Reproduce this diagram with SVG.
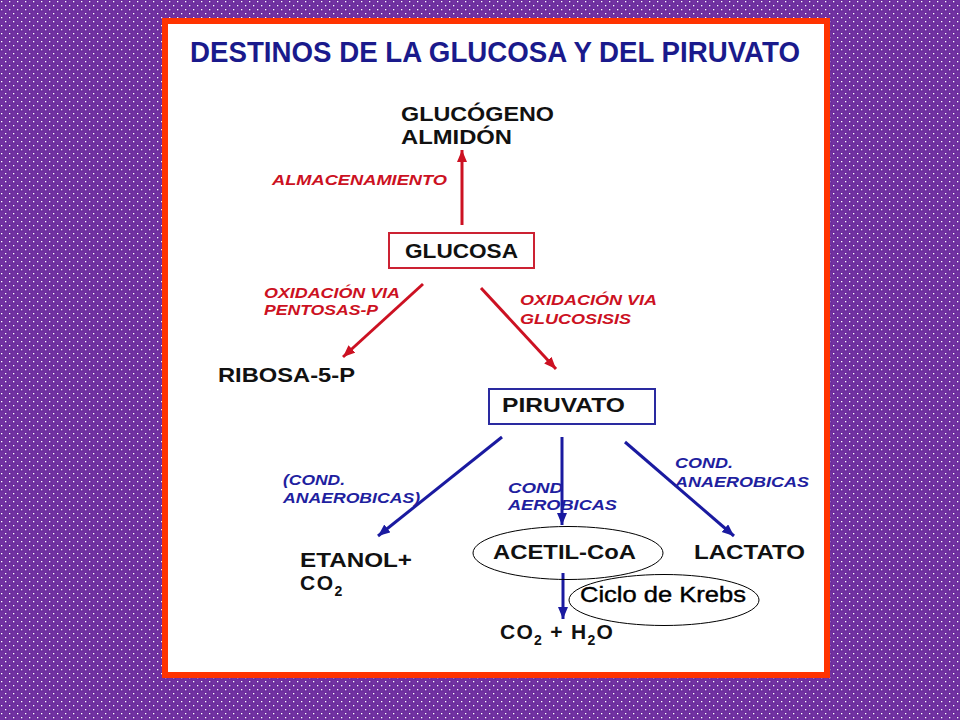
<svg xmlns="http://www.w3.org/2000/svg" width="960" height="720" viewBox="0 0 960 720">
<defs>
<pattern id="dots" width="8" height="8" patternUnits="userSpaceOnUse">
<rect width="8" height="8" fill="#7232a2"/>
<rect x="0" y="0" width="4" height="4" fill="#6a2c9c"/>
<rect x="4" y="4" width="4" height="4" fill="#6a2c9c"/>
<rect x="1" y="1" width="1.3" height="1.3" fill="#ffffff"/>
<rect x="5" y="5" width="1.3" height="1.3" fill="#ffffff"/>
</pattern>
<marker id="ar" markerUnits="userSpaceOnUse" markerWidth="14" markerHeight="12" refX="12" refY="5" orient="auto">
<path d="M0,0 L12,5 L0,10 Z" fill="#cc1122"/>
</marker>
<marker id="ab" markerUnits="userSpaceOnUse" markerWidth="14" markerHeight="12" refX="12" refY="5" orient="auto">
<path d="M0,0 L12,5 L0,10 Z" fill="#1a1aa0"/>
</marker>
</defs>
<style>
.n{font-family:"Liberation Sans",Arial,sans-serif;font-weight:bold;font-size:21px;fill:#111111}
.r{font-family:"Liberation Sans",Arial,sans-serif;font-weight:bold;font-style:italic;font-size:14px;fill:#cc1122}
.b{font-family:"Liberation Sans",Arial,sans-serif;font-weight:bold;font-style:italic;font-size:14px;fill:#1f1fa0}
.lr{stroke:#cc1122;stroke-width:3;fill:none}
.lb{stroke:#1a1aa0;stroke-width:3;fill:none}
</style>
<rect width="960" height="720" fill="url(#dots)"/>
<rect x="165" y="21" width="662" height="654" fill="#ffffff" stroke="#ff3300" stroke-width="6"/>
<text x="190" y="62" font-family="Liberation Sans,Arial,sans-serif" font-weight="bold" font-size="29" fill="#1a1a8c" textLength="610" lengthAdjust="spacingAndGlyphs">DESTINOS DE LA GLUCOSA Y DEL PIRUVATO</text>

<g id="connectors">
<line class="lr" x1="462" y1="225" x2="462" y2="150" marker-end="url(#ar)"/>
<line class="lr" x1="423" y1="284" x2="343" y2="357" marker-end="url(#ar)"/>
<line class="lr" x1="481" y1="288" x2="556" y2="369" marker-end="url(#ar)"/>
<line class="lb" x1="502" y1="437" x2="378" y2="536" marker-end="url(#ab)"/>
<line class="lb" x1="562" y1="437" x2="562" y2="525" marker-end="url(#ab)"/>
<line class="lb" x1="625" y1="442" x2="734" y2="536" marker-end="url(#ab)"/>
<line class="lb" x1="563" y1="573" x2="563" y2="619" marker-end="url(#ab)"/>
</g>

<g id="labels">
<text class="r" x="272" y="185" textLength="175" lengthAdjust="spacingAndGlyphs">ALMACENAMIENTO</text>
<text class="r" x="264" y="298" textLength="136" lengthAdjust="spacingAndGlyphs">OXIDACIÓN VIA</text>
<text class="r" x="264" y="315" textLength="114" lengthAdjust="spacingAndGlyphs">PENTOSAS-P</text>
<text class="r" x="520" y="305" textLength="137" lengthAdjust="spacingAndGlyphs">OXIDACIÓN VIA</text>
<text class="r" x="520" y="324" textLength="111" lengthAdjust="spacingAndGlyphs">GLUCOSISIS</text>
<text class="b" x="283" y="485" textLength="62" lengthAdjust="spacingAndGlyphs">(COND.</text>
<text class="b" x="283" y="503" textLength="137" lengthAdjust="spacingAndGlyphs">ANAEROBICAS)</text>
<text class="b" x="508" y="493" textLength="55" lengthAdjust="spacingAndGlyphs">COND</text>
<text class="b" x="508" y="510" textLength="109" lengthAdjust="spacingAndGlyphs">AEROBICAS</text>
<text class="b" x="675" y="468" textLength="58" lengthAdjust="spacingAndGlyphs">COND.</text>
<text class="b" x="675" y="487" textLength="134" lengthAdjust="spacingAndGlyphs">ANAEROBICAS</text>
</g>

<g id="glucogeno">
<text class="n" x="401" y="121" textLength="153" lengthAdjust="spacingAndGlyphs">GLUCÓGENO</text>
<text class="n" x="401" y="144" textLength="111" lengthAdjust="spacingAndGlyphs">ALMIDÓN</text>
</g>
<g id="glucosa">
<rect x="389" y="233" width="145" height="35" fill="none" stroke="#cc2233" stroke-width="2"/>
<text class="n" x="405" y="258" textLength="113" lengthAdjust="spacingAndGlyphs">GLUCOSA</text>
</g>
<g id="ribosa">
<text class="n" x="218" y="382" textLength="137" lengthAdjust="spacingAndGlyphs">RIBOSA-5-P</text>
</g>
<g id="piruvato">
<rect x="489" y="389" width="166" height="35" fill="none" stroke="#2a2aa0" stroke-width="2"/>
<text class="n" x="502" y="412" textLength="123" lengthAdjust="spacingAndGlyphs">PIRUVATO</text>
</g>
<g id="etanol">
<text class="n" x="300" y="567" textLength="112" lengthAdjust="spacingAndGlyphs">ETANOL+</text>
<text class="n" x="300" y="590" letter-spacing="1.5">CO<tspan font-size="14" dy="6">2</tspan></text>
</g>
<g id="acetilcoa">
<ellipse cx="568" cy="553" rx="95" ry="26.5" fill="none" stroke="#000000" stroke-width="1"/>
<text class="n" x="493" y="559" textLength="143" lengthAdjust="spacingAndGlyphs">ACETIL-CoA</text>
</g>
<g id="lactato">
<text class="n" x="694" y="559" textLength="111" lengthAdjust="spacingAndGlyphs">LACTATO</text>
</g>
<g id="krebs">
<ellipse cx="664" cy="600" rx="95" ry="25.5" fill="none" stroke="#000000" stroke-width="1"/>
<text x="580" y="602" font-family="Liberation Sans,Arial,sans-serif" font-size="22" fill="#000000" stroke="#000000" stroke-width="0.4" textLength="166" lengthAdjust="spacingAndGlyphs">Ciclo de Krebs</text>
</g>
<g id="co2h2o">
<text class="n" x="500" y="639" letter-spacing="1.3">CO<tspan font-size="14" dy="6">2</tspan><tspan dy="-6"> + H</tspan><tspan font-size="14" dy="6">2</tspan><tspan dy="-6">O</tspan></text>
</g>
</svg>
